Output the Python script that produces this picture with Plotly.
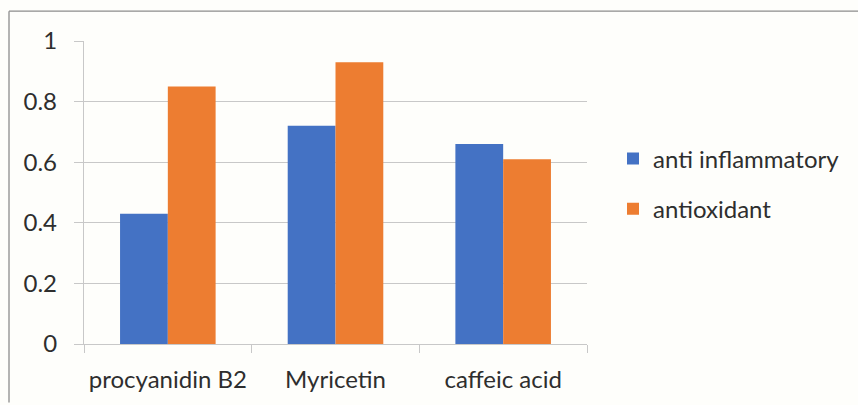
import plotly.graph_objects as go

# Activity scores per compound
compounds = ["procyanidin B2", "Myricetin", "caffeic acid"]
anti_inflammatory = [0.43, 0.72, 0.66]
antioxidant = [0.85, 0.93, 0.61]
y_ticks = [0, 0.2, 0.4, 0.6, 0.8, 1]
y_tick_labels = ["0", "0.2", "0.4", "0.6", "0.8", "1"]

BLUE = "#4472C4"
ORANGE = "#ED7D31"
GRID = "#C8C8C8"
TEXT = "#2E2E2E"
FONT = "Lato"
FS = 24

fig = go.Figure()
fig.add_trace(go.Bar(name="anti inflammatory", x=compounds, y=anti_inflammatory,
                     marker=dict(color=BLUE, line=dict(width=0)), legendgroup="a"))
fig.add_trace(go.Bar(name="antioxidant", x=compounds, y=antioxidant,
                     marker=dict(color=ORANGE, line=dict(width=0)), legendgroup="b"))

W, H = 858, 405
L, R, T, B = 84, 587, 41, 346  # plot area in pixels
pw, ph = R - L, B - T


def px_x(x):
    return (x - L) / pw


def px_y(y):
    return (B - y) / ph


fig.update_layout(
    width=W, height=H,
    margin=dict(l=L, r=W - R, t=T, b=H - B, pad=0),
    paper_bgcolor="#FEFEFB",
    plot_bgcolor="rgba(0,0,0,0)",
    barmode="group",
    bargap=0.43,
    bargroupgap=0,
    font=dict(family=FONT, size=FS, color=TEXT),
    showlegend=True,
    legend=dict(x=px_x(613), y=px_y(137), xanchor="left", yanchor="top",
                bgcolor="rgba(0,0,0,0)", tracegroupgap=16,
                font=dict(family=FONT, size=FS, color=TEXT)),
    xaxis=dict(showline=True, linecolor=GRID, linewidth=1.3,
               ticks="outside", tickson="boundaries", ticklen=8,
               tickcolor=GRID, tickwidth=1.3, showgrid=False,
               ticklabelstandoff=14,
               tickfont=dict(family=FONT, size=FS, color=TEXT)),
    yaxis=dict(range=[0, 1], tickvals=y_ticks, ticktext=y_tick_labels,
               showline=True, linecolor=GRID, linewidth=1.3,
               showgrid=True, gridcolor=GRID, gridwidth=1.3,
               ticks="outside", ticklen=9, tickcolor=GRID, tickwidth=1.3,
               zeroline=False, ticklabelstandoff=12,
               tickfont=dict(family=FONT, size=FS, color=TEXT)),
    shapes=[
        # outer chart frame (left and top edges)
        dict(type="line", xref="paper", yref="paper",
             x0=px_x(9), x1=px_x(9), y0=px_y(11), y1=px_y(405),
             line=dict(color="#8C8C8C", width=1.3)),
        dict(type="line", xref="paper", yref="paper",
             x0=px_x(9), x1=px_x(858), y0=px_y(11), y1=px_y(11),
             line=dict(color="#8C8C8C", width=1.3)),
    ],
)

fig.write_html("out.html")
